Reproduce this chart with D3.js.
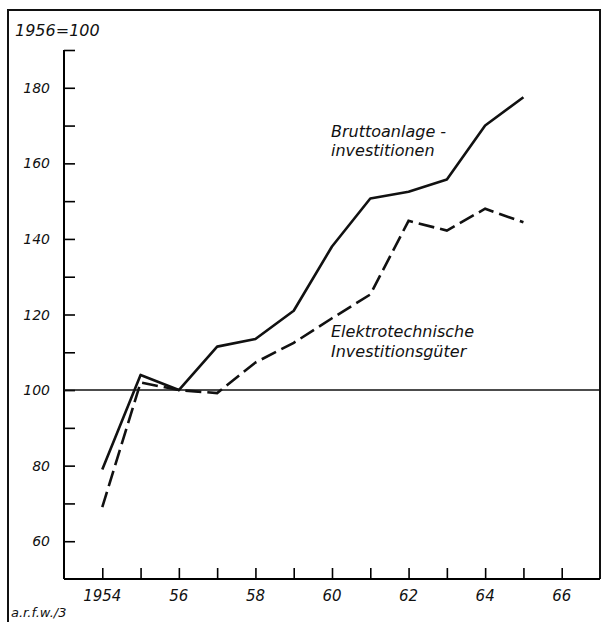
<!DOCTYPE html>
<html>
<head>
<meta charset="utf-8">
<title>Bruttoanlageinvestitionen</title>
<script src="https://cdn.jsdelivr.net/npm/d3@7"></script>
<style>
body { margin: 0; background: #fff; }
text { font-family: "DejaVu Sans", sans-serif; font-style: oblique; fill: #111; }
.frame, .axis { stroke: #111; fill: none; }
</style>
</head>
<body>
<script>

var width = 605,
    height = 622;

// data (1956 = 100)
var years = [1954, 1955, 1956, 1957, 1958, 1959, 1960, 1961, 1962, 1963, 1964, 1965];
var brutto = [79, 104, 100, 111.5, 113.5, 121, 138, 150.7, 152.5, 155.7, 170, 177.5];
var elektro = [69, 102, 100, 99.2, 107.3, 112.5, 119, 125.3, 144.8, 142.2, 148, 144.4];
var xTicks = [1954, 1956, 1958, 1960, 1962, 1964, 1966];
var xTickLabels = ["1954", "56", "58", "60", "62", "64", "66"];
var yTicks = [60, 80, 100, 120, 140, 160, 180];

var x = d3.scaleLinear().domain([1953, 1967]).range([64, 600]);
var y = d3.scaleLinear().domain([50, 190]).range([579, 50]);

var svg = d3.select("body").append("svg")
    .attr("width", width)
    .attr("height", height);

// outer frame
svg.append("path")
    .attr("class", "frame")
    .attr("stroke-width", 2)
    .attr("d", "M8,622 V10 H600 V" + y(50));

// y axis
var yAxis = d3.axisRight(y)
    .tickValues(d3.range(50, 191, 10))
    .tickSize(11)
    .tickFormat("");
var gy = svg.append("g").attr("transform", "translate(" + x(1953) + ",0)").call(yAxis);
gy.select(".domain").attr("stroke-width", 2).attr("d", "M0," + y(190) + "V" + y(50));
gy.selectAll(".tick line").attr("stroke-width", 1.6);
gy.selectAll(".tick").filter(function(d) { return d === 50; }).remove();

svg.append("g").selectAll("text")
    .data(yTicks)
  .enter().append("text")
    .attr("x", 50)
    .attr("y", function(d) { return y(d) + 5; })
    .attr("text-anchor", "end")
    .attr("font-size", 14)
    .text(function(d) { return d; });

// x axis
var xAxis = d3.axisTop(x)
    .tickValues(d3.range(1954, 1967))
    .tickSize(11)
    .tickFormat("");
var gx = svg.append("g").attr("transform", "translate(0," + y(50) + ")").call(xAxis);
gx.select(".domain").attr("stroke-width", 2).attr("d", "M" + x(1953) + ",0H" + x(1967));
gx.selectAll(".tick line").attr("stroke-width", 1.6);

svg.append("g").selectAll("text")
    .data(xTicks)
  .enter().append("text")
    .attr("x", function(d) { return x(d); })
    .attr("y", 601)
    .attr("text-anchor", "middle")
    .attr("font-size", 15)
    .text(function(d, i) { return xTickLabels[i]; });

// base line at 100
svg.append("line")
    .attr("x1", x(1953)).attr("x2", x(1967))
    .attr("y1", y(100)).attr("y2", y(100))
    .attr("stroke", "#111")
    .attr("stroke-width", 1.6);

var line = d3.line()
    .x(function(d) { return x(d[0]); })
    .y(function(d) { return y(d[1]); });

svg.append("path")
    .datum(d3.zip(years, brutto))
    .attr("d", line)
    .attr("fill", "none")
    .attr("stroke", "#111")
    .attr("stroke-width", 2.6)
    .attr("stroke-linejoin", "round");

svg.append("path")
    .datum(d3.zip(years, elektro))
    .attr("d", line)
    .attr("fill", "none")
    .attr("stroke", "#111")
    .attr("stroke-width", 2.6)
    .attr("stroke-dasharray", "16,6");

// labels
svg.append("text").attr("x", 15).attr("y", 36).attr("font-size", 16).text("1956=100");

svg.append("text").attr("x", 331).attr("y", 137).attr("font-size", 16).text("Bruttoanlage -");
svg.append("text").attr("x", 331).attr("y", 156).attr("font-size", 16).text("investitionen");

svg.append("text").attr("x", 331).attr("y", 337).attr("font-size", 16).text("Elektrotechnische");
svg.append("text").attr("x", 331).attr("y", 357).attr("font-size", 16).text("Investitionsgüter");

svg.append("text").attr("x", 11).attr("y", 617).attr("font-size", 13).text("a.r.f.w./3");

</script>
</body>
</html>
